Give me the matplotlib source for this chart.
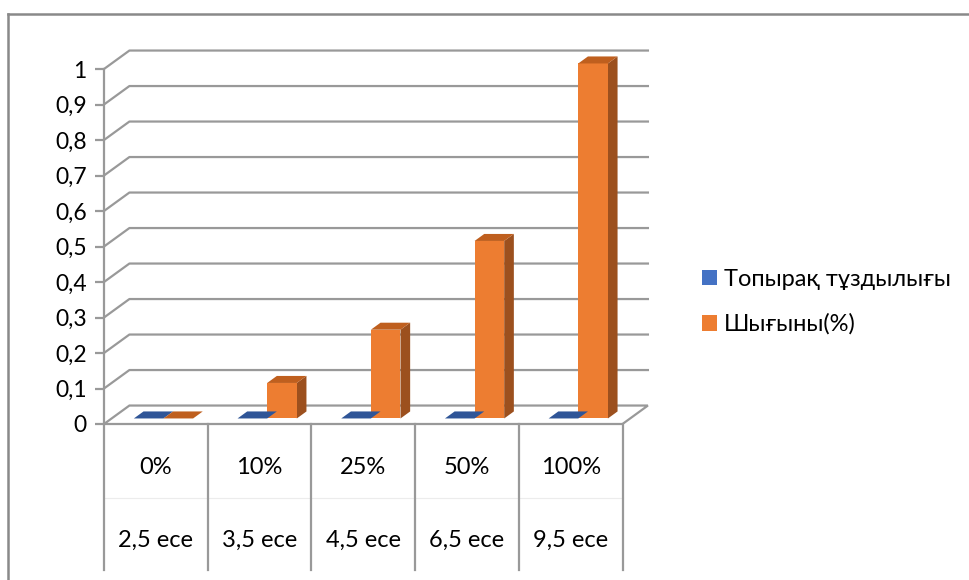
import numpy as np
import matplotlib
matplotlib.use('Agg')
import matplotlib.pyplot as plt
from matplotlib.patches import Polygon, Patch
from matplotlib.lines import Line2D

plt.rcParams['font.family'] = ['Lato', 'Noto Sans', 'DejaVu Sans']

# data
pct_labels = ['0%', '10%', '25%', '50%', '100%']
ece_labels = ['2,5 ece', '3,5 ece', '4,5 ece', '6,5 ece', '9,5 ece']
salinity = [0, 0, 0, 0, 0]          # Топырақ тұздылығы
loss = [0, 0.1, 0.25, 0.5, 1.0]     # Шығыны(%)
yticks = np.arange(0, 1.01, 0.1)

blue = '#4472c4'; blue_top = '#2f5597'; blue_side = '#2a4a85'
orange = '#ed7d31'; orange_top = '#bf5f1e'; orange_side = '#9c501e'
gridc = '#999999'
fs = 17

W, H = 969, 580
fig = plt.figure(figsize=(W/100, H/100), dpi=100)
ax = fig.add_axes([104/W, (H-424)/H, 518.5/W, 355/H])
ax.set_xlim(0, 5); ax.set_ylim(0, 1)

# fake 3d depth offset (data units)
ddx, ddy = 0.245, 0.052
def dp(x, y, d):
    return (x + d*ddx, y + d*ddy)

# back wall gridlines + left wall diagonals
for v in yticks[1:]:
    ax.add_line(Line2D([0, ddx, 5+ddx], [v, v+ddy, v+ddy], color=gridc, lw=1.6, clip_on=False, zorder=1))
# floor
floor = Polygon([dp(0, 0, 0), dp(5, 0, 0), dp(5, 0, 1), dp(0, 0, 1)], closed=True,
                facecolor='white', edgecolor=gridc, lw=1.6, clip_on=False, zorder=2)
ax.add_patch(floor)

# bars
n = len(pct_labels)
w = 0.2857
d0, d1 = 0.3, 0.68
for i in range(n):
    for j, (vals, cf, ct, cs) in enumerate([(salinity, blue, blue_top, blue_side),
                                             (loss, orange, orange_top, orange_side)]):
        v = vals[i]
        l = i + 0.5 - w + j*w
        r = l + w
        z = 3 + i*0.1
        if v > 0:
            ax.add_patch(Polygon([dp(r, 0, d0), dp(r, v, d0), dp(r, v, d1), dp(r, 0, d1)],
                                 facecolor=cs, edgecolor='none', clip_on=False, zorder=z))
            ax.add_patch(Polygon([dp(l, 0, d0), dp(r, 0, d0), dp(r, v, d0), dp(l, v, d0)],
                                 facecolor=cf, edgecolor='none', clip_on=False, zorder=z+0.01))
        ax.add_patch(Polygon([dp(l, v, d0), dp(r, v, d0), dp(r, v, d1), dp(l, v, d1)],
                             facecolor=ct, edgecolor='none', clip_on=False, zorder=z+0.02))

# category table under the floor
ybot = -146/355
for k in range(n+1):
    ax.add_line(Line2D([k, k], [0, ybot], color=gridc, lw=1.6, clip_on=False, zorder=2))
ax.add_line(Line2D([0, 5], [-74/355, -74/355], color='#ececec', lw=0.8, clip_on=False, zorder=1))
for i in range(n):
    ax.text(i+0.5, -44/355, pct_labels[i], ha='center', va='center', fontsize=fs, clip_on=False)
    ax.text(i+0.5, -116/355, ece_labels[i], ha='center', va='center', fontsize=fs, clip_on=False)

# y axis
for s in ['top', 'right', 'bottom']:
    ax.spines[s].set_visible(False)
ax.spines['left'].set_color(gridc)
ax.spines['left'].set_linewidth(1.6)
ax.set_xticks([])
ax.set_yticks(yticks)
ax.set_yticklabels([('%g' % t).replace('.', ',') for t in yticks], fontsize=16.5)
ax.tick_params(axis='y', length=6.5, width=1.6, color=gridc, pad=6)
ax.patch.set_visible(False)

# legend
handles = [Patch(facecolor=blue, edgecolor='none'), Patch(facecolor=orange, edgecolor='none')]
fig.legend(handles, ['Топырақ тұздылығы', 'Шығыны(%)'], loc='center left',
           bbox_to_anchor=(702/W, 1-302/H), frameon=False, fontsize=fs,
           borderpad=0, borderaxespad=0,
           handlelength=0.64, handleheight=0.64, handletextpad=0.3, labelspacing=1.0)

# chart area border (cut at right and bottom)
fig.add_artist(Line2D([8/W, 1], [1-14/H, 1-14/H], transform=fig.transFigure, color='#898989', lw=1.8))
fig.add_artist(Line2D([8/W, 8/W], [0, 1-14/H], transform=fig.transFigure, color='#898989', lw=1.8))

fig.savefig('out.png', dpi=100)
